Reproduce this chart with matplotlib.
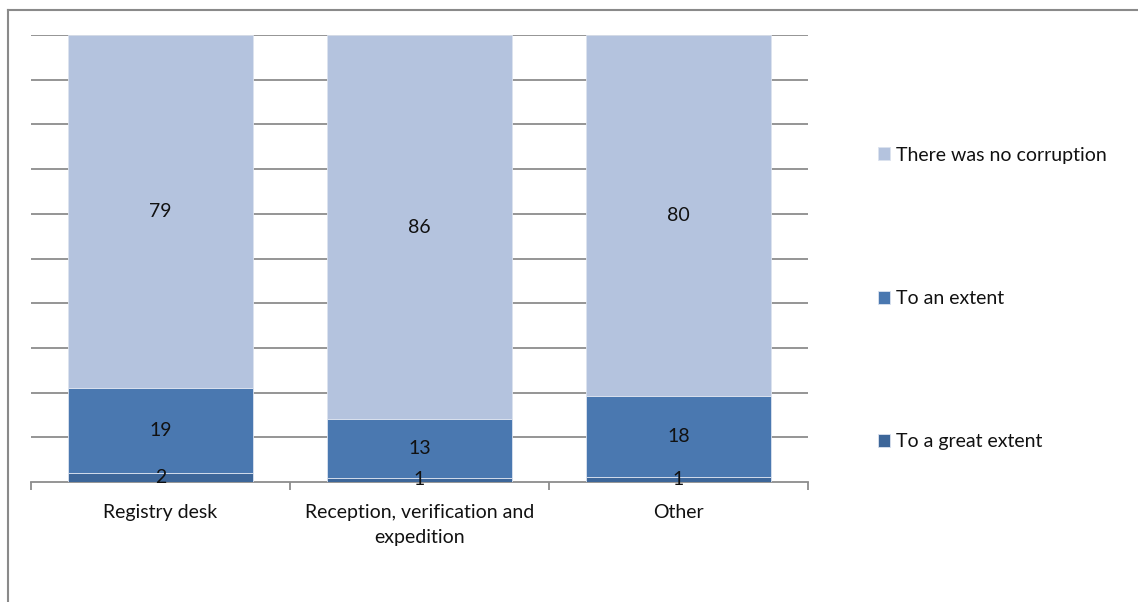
import matplotlib
matplotlib.use("Agg")
import matplotlib.pyplot as plt
from matplotlib.lines import Line2D
import numpy as np

categories = ["Registry desk", "Reception, verification and\nexpedition", "Other"]
series_names = ["To a great extent", "To an extent", "There was no corruption"]
great_extent = [2, 1, 1]
an_extent = [19, 13, 18]
no_corruption = [79, 86, 80]
colors = ["#3D6699", "#4A78B0", "#B4C3DE"]

plt.rcParams["font.family"] = ["Lato", "DejaVu Sans"]
FS = 14

fig = plt.figure(figsize=(11.38, 6.02), dpi=100)
ax = fig.add_axes([31 / 1138, 1 - 482 / 602, 777 / 1138, 447 / 602])

raw = np.array([great_extent, an_extent, no_corruption], dtype=float)
shares = raw / raw.sum(axis=0) * 100
x = np.arange(len(categories))
bottom = np.zeros(len(categories))
handles = []
for name, vals, rawvals, col in zip(series_names, shares, raw, colors):
    bars = ax.bar(x, vals, bottom=bottom, width=0.714, color=col,
                  edgecolor="#DCE3EF", linewidth=0.6, label=name, zorder=3)
    handles.append(bars)
    for xi, b, v, r in zip(x, bottom, vals, rawvals):
        ax.text(xi, b + v / 2, f"{int(r)}", ha="center", va="center",
                fontsize=FS, color="#111111", zorder=4)
    bottom += vals

ax.set_xlim(-0.5, 2.5)
ax.set_ylim(0, 100)
for y in range(10, 101, 10):
    ax.axhline(y, color="#8C8C8C", linewidth=1.3, zorder=1)

for s in ["left", "right", "top"]:
    ax.spines[s].set_visible(False)
ax.spines["bottom"].set_color("#8C8C8C")
ax.spines["bottom"].set_linewidth(1.3)
ax.set_yticks([])
ax.set_xticks([-0.5, 0.5, 1.5, 2.5])
ax.set_xticklabels([])
ax.tick_params(axis="x", which="major", length=6, width=1.3, color="#8C8C8C", direction="out")
ax.set_xticks(x, minor=True)
ax.set_xticklabels(categories, minor=True, fontsize=FS, color="#111111", linespacing=1.55)
ax.tick_params(axis="x", which="minor", length=0, pad=16)

leg = fig.legend(handles[::-1], series_names[::-1], loc="upper left",
                 bbox_to_anchor=(868 / 1138, 1 - 137 / 602), frameon=False,
                 fontsize=FS, handlelength=0.65, handleheight=0.65,
                 handletextpad=0.3, labelspacing=6.5, borderpad=0)
for t in leg.get_texts():
    t.set_color("#111111")

# outer chart frame (left and top edges)
fig.add_artist(Line2D([8 / 1138, 8 / 1138], [0, 1 - 10 / 602],
                      transform=fig.transFigure, color="#8A8A8A", linewidth=1.5))
fig.add_artist(Line2D([8 / 1138, 1], [1 - 10 / 602, 1 - 10 / 602],
                      transform=fig.transFigure, color="#8A8A8A", linewidth=1.5))

fig.savefig("out.png", dpi=100)
